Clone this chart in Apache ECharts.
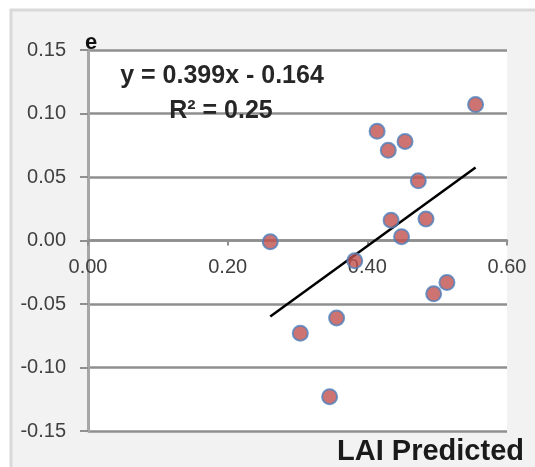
<!DOCTYPE html>
<html>
<head>
<meta charset="utf-8">
<script src="https://cdn.jsdelivr.net/npm/echarts@6/dist/echarts.min.js"></script>
<style>
  html, body { margin: 0; padding: 0; background: #ffffff; }
  #chart { width: 535px; height: 467px; }
</style>
</head>
<body>
<div id="chart"></div>
<script>
// LAI predicted vs residual e
const laiPredicted = [0.261, 0.304, 0.356, 0.346, 0.382, 0.414, 0.430, 0.434, 0.454, 0.449, 0.473, 0.484, 0.495, 0.514, 0.555];
const residualE    = [-0.001, -0.073, -0.061, -0.123, -0.016, 0.086, 0.071, 0.016, 0.078, 0.003, 0.047, 0.017, -0.042, -0.033, 0.107];

// Linear trend fitted to the points
const trendSlope = [0.399];
const trendIntercept = [-0.164];
const trendR2 = [0.25];

const xTicks = [0.0, 0.6, 0.2];    // min, max, step
const yTicks = [-0.15, 0.15, 0.05]; // min, max, step

const points = laiPredicted.map((x, i) => [x, residualE[i]]);
const xLo = Math.min(...laiPredicted);
const xHi = Math.max(...laiPredicted);
const trendLine = [xLo, xHi].map(x => [x, trendSlope[0] * x + trendIntercept[0]]);

const FONT = '"Liberation Sans", Arial, sans-serif';
const GRID = { left: 88, right: 28, top: 50, bottom: 36 };
const plotH = 467 - GRID.top - GRID.bottom;
// distance from the bottom edge of the plot up to the e = 0 line
const zeroLift = plotH * (0 - yTicks[0]) / (yTicks[1] - yTicks[0]);

const chart = echarts.init(document.getElementById('chart'), null, { renderer: 'canvas' });

chart.setOption({
  backgroundColor: '#ffffff',
  animation: false,
  grid: Object.assign({ show: true, backgroundColor: '#ffffff', borderWidth: 0 }, GRID),
  xAxis: {
    type: 'value',
    position: 'bottom',
    offset: -zeroLift,
    min: xTicks[0], max: xTicks[1], interval: xTicks[2],
    axisLine: { show: true, onZero: false, lineStyle: { color: '#8f8f8f', width: 2.5 } },
    axisTick: { show: true, inside: false, length: 5, lineStyle: { color: '#8f8f8f', width: 2 } },
    axisLabel: {
      show: true, margin: 17, showMinLabel: true, showMaxLabel: true,
      formatter: v => v.toFixed(2),
      fontFamily: FONT, fontSize: 20, color: '#404040'
    },
    splitLine: { show: false }
  },
  yAxis: {
    type: 'value',
    min: yTicks[0], max: yTicks[1], interval: yTicks[2],
    axisLine: { show: true, onZero: false, lineStyle: { color: '#a6a6a6', width: 3 } },
    axisTick: { show: true, inside: false, length: 8, lineStyle: { color: '#8f8f8f', width: 2 } },
    axisLabel: {
      show: true, margin: 22,
      formatter: v => v.toFixed(2),
      fontFamily: FONT, fontSize: 20, color: '#404040'
    },
    splitLine: { show: true, lineStyle: { color: '#8f8f8f', width: 2.5 } }
  },
  graphic: [
    {
      type: 'rect', z: -5, silent: true,
      shape: { x: 11, y: 10, width: 540, height: 470 },
      style: { fill: '#f2f2f2', stroke: '#d9d9d9', lineWidth: 3 }
    },
    {
      type: 'text', z: 10,
      style: {
        text: 'e', x: 91, y: 43, align: 'center', verticalAlign: 'middle',
        font: 'bold 22px ' + FONT, fill: '#111111'
      }
    },
    {
      type: 'text', z: 10,
      style: {
        text: 'y = ' + trendSlope[0].toFixed(3) + 'x - ' + Math.abs(trendIntercept[0]).toFixed(3),
        x: 222, y: 76, align: 'center', verticalAlign: 'middle',
        font: 'bold 25px ' + FONT, fill: '#262626'
      }
    },
    {
      type: 'text', z: 10,
      style: {
        text: 'R\u00B2 = ' + trendR2[0].toFixed(2),
        x: 221, y: 111, align: 'center', verticalAlign: 'middle',
        font: 'bold 25px ' + FONT, fill: '#262626'
      }
    },
    {
      type: 'text', z: 10,
      style: {
        text: 'LAI Predicted',
        x: 524, y: 452, align: 'right', verticalAlign: 'middle',
        font: 'bold 29px ' + FONT, fill: '#1a1a1a'
      }
    }
  ],
  series: [
    {
      type: 'line',
      data: trendLine,
      symbol: 'none',
      lineStyle: { color: '#000000', width: 2.5 },
      z: 3
    },
    {
      type: 'scatter',
      data: points,
      symbol: 'circle',
      symbolSize: 15,
      itemStyle: { color: '#c0504d', borderColor: '#4f81bd', borderWidth: 2 },
      z: 4
    }
  ]
});
</script>
</body>
</html>
